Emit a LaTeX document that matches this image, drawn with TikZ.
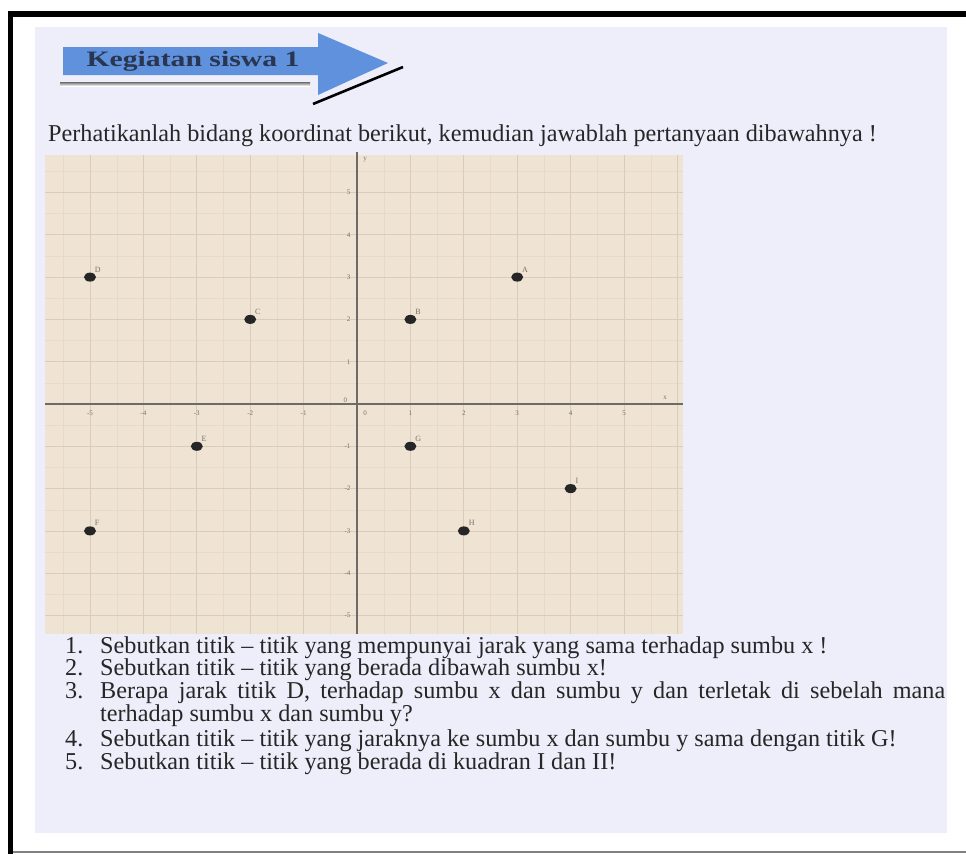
\documentclass[tikz,border=0pt]{standalone}
\usepackage{fontspec}
\setmainfont{Liberation Serif}
\usetikzlibrary{shapes.geometric}
\definecolor{page}{HTML}{EDEEFA}
\definecolor{paper}{HTML}{EFE3D3}
\definecolor{gridc}{HTML}{D9CCBB}
\definecolor{gridm}{HTML}{E7DACA}
\definecolor{axisc}{HTML}{6E6A64}
\definecolor{banner}{HTML}{5F91DC}
\definecolor{shade}{HTML}{677083}
\definecolor{ink}{HTML}{262626}
\definecolor{hdrink}{HTML}{2A3550}
\definecolor{tick}{HTML}{77726C}
\begin{document}
\begin{tikzpicture}[x=1pt,y=-1pt,
 dot/.style={ellipse,fill=black!85,minimum width=12pt,minimum height=9pt,inner sep=0pt},
 lbl/.style={font=\fontsize{8}{8}\selectfont,text=tick,inner sep=1pt},
 ticklbl/.style={font=\fontsize{7}{7}\selectfont,text=tick,inner sep=0pt},
 txt/.style={font=\fontsize{24.2}{25}\selectfont,text=ink,inner sep=0pt,anchor=base west}]
\useasboundingbox (0,0) rectangle (966,854);
\fill[white] (0,0) rectangle (966,854);
% frame
\fill[black] (8,11) rectangle (966,17);
\fill[black] (8,11) rectangle (13,854);
\draw[gray,line width=1.5pt] (13,852) -- (966,852);
% page
\fill[page] (35,27) rectangle (947,833);
% banner
\fill[shade] (60,82.5) rectangle (310,86);
\draw[shade,line width=2.6pt] (403,67) -- (313,104);
\fill[banner] (63,47) -- (318,47) -- (318,33) -- (388,63) -- (318,95) -- (318,75) -- (63,75) -- cycle;
\node[font=\bfseries\fontsize{22}{22}\selectfont,text=hdrink,inner sep=0pt] (hdr) at (193,61) {\scalebox{1.35}[1]{Kegiatan siswa 1}};
% title
\node[txt] (title) at (48,141) {Perhatikanlah bidang koordinat berikut, kemudian jawablah pertanyaan dibawahnya !};
% graph
\begin{scope}[shift={(357pt,-404pt)},x=53.4pt,y=42.3pt]
\fill[paper] (-5.84,-5.44) rectangle (6.1,5.89);
\foreach \i in {-5.5,-4.5,...,5.6} \draw[gridm,line width=0.4pt] (\i,-5.44) -- (\i,5.89);
\foreach \j in {-4.5,-3.5,...,5.6} \draw[gridm,line width=0.4pt] (-5.84,\j) -- (6.1,\j);
\foreach \i in {-5,...,6} \draw[gridc,line width=0.8pt] (\i,-5.44) -- (\i,5.89);
\foreach \j in {-5,...,5} \draw[gridc,line width=0.8pt] (-5.84,\j) -- (6.1,\j);
\draw[axisc,line width=1.6pt] (-5.84,0) -- (6.1,0);
\draw[axisc,line width=1.6pt] (0,-5.44) -- (0,5.96);
\foreach \i in {-5,-4,-3,-2,-1,1,2,3,4,5} \node[ticklbl] (xt\i) at (\i,-0.22) {\i};
\foreach \j in {-5,-4,-3,-2,-1,1,2,3,4,5} \node[ticklbl,anchor=east] (yt\j) at (-0.12,\j) {\j};
\node[ticklbl] (o1) at (-0.22,0.09) {0};
\node[ticklbl] (o2) at (0.15,-0.21) {0};
\node[ticklbl] (xl) at (5.77,0.14) {x};
\node[ticklbl] (yl) at (0.15,5.77) {y};
\node[dot,label={[lbl]45:A}] (A) at (3,3) {};
\node[dot,label={[lbl]45:B}] (B) at (1,2) {};
\node[dot,label={[lbl]45:C}] (C) at (-2,2) {};
\node[dot,label={[lbl]45:D}] (D) at (-5,3) {};
\node[dot,label={[lbl]45:E}] (E) at (-3,-1) {};
\node[dot,label={[lbl]45:F}] (F) at (-5,-3) {};
\node[dot,label={[lbl]45:G}] (G) at (1,-1) {};
\node[dot,label={[lbl]45:H}] (H) at (2,-3) {};
\node[dot,label={[lbl]45:I}] (I) at (4,-2) {};
\end{scope}
% questions
\node[txt] (n1) at (65,653) {1.};
\node[txt] (q1) at (100,653) {Sebutkan titik -- titik yang mempunyai jarak yang sama terhadap sumbu x !};
\node[txt] (n2) at (65,675.5) {2.};
\node[txt] (q2) at (100,675.5) {Sebutkan titik -- titik yang berada dibawah sumbu x!};
\node[txt] (n3) at (65,698) {3.};
\node[txt] (q3) at (100,698) {\makebox[845pt][s]{Berapa jarak titik D, terhadap sumbu x dan sumbu y dan terletak di sebelah mana}};
\node[txt] (q3b) at (100,721) {terhadap sumbu x dan sumbu y?};
\node[txt] (n4) at (65,746) {4.};
\node[txt] (q4) at (100,746) {Sebutkan titik -- titik yang jaraknya ke sumbu x dan sumbu y sama dengan titik G!};
\node[txt] (n5) at (65,769) {5.};
\node[txt] (q5) at (100,769) {Sebutkan titik -- titik yang berada di kuadran I dan II!};
\end{tikzpicture}
\end{document}
